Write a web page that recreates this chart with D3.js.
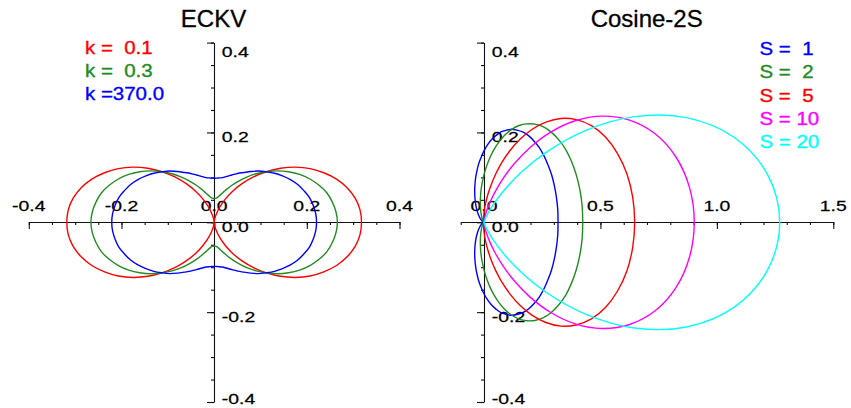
<!DOCTYPE html>
<html><head><meta charset="utf-8">
<script src="https://cdn.jsdelivr.net/npm/d3@7"></script>
<style>
body{margin:0;background:#fff}
text{font-family:"Liberation Sans",Arial,Helvetica,sans-serif}
</style>
</head><body>
<svg id="c" width="851" height="408"></svg>
<script>
// ---------- data ----------
// polar angle (degrees) at which the radii below are sampled (upper half, curves are symmetric about the x axis)
const angleDeg = [0,5,10,15,20,25,30,35,40,45,50,55,60,65,70,75,80,85,90,95,100,105,110,115,120,125,130,135,140,145,150,155,160,165,170,175,180];

// ECKV panel
const eckvTitle = "ECKV";
const eckvLabels = ["k =  0.1", "k =  0.3", "k =370.0"];
const eckvK01  = [0.318,0.316,0.309,0.297,0.281,0.261,0.239,0.214,0.187,0.159,0.132,0.105,0.080,0.057,0.037,0.021,0.010,0.002,0.000,0.002,0.010,0.021,0.037,0.057,0.080,0.105,0.132,0.159,0.187,0.214,0.239,0.261,0.281,0.297,0.309,0.316,0.318];
const eckvK03  = [0.266,0.264,0.259,0.252,0.241,0.228,0.213,0.196,0.178,0.159,0.141,0.123,0.106,0.091,0.078,0.067,0.059,0.054,0.053,0.054,0.059,0.067,0.078,0.091,0.106,0.123,0.141,0.159,0.178,0.196,0.213,0.228,0.241,0.252,0.259,0.264,0.266];
const eckvK370 = [0.221,0.220,0.217,0.213,0.206,0.199,0.190,0.180,0.170,0.159,0.149,0.138,0.128,0.120,0.112,0.106,0.101,0.099,0.098,0.099,0.101,0.106,0.112,0.120,0.128,0.138,0.149,0.159,0.170,0.180,0.190,0.199,0.206,0.213,0.217,0.220,0.221];

// Cosine-2S panel
const cosTitle = "Cosine-2S";
const cosLabels = ["S =  1", "S =  2", "S =  5", "S = 10", "S = 20"];
const cosS1  = [0.318,0.318,0.316,0.313,0.309,0.303,0.297,0.290,0.281,0.272,0.262,0.250,0.239,0.226,0.214,0.200,0.187,0.173,0.159,0.145,0.132,0.118,0.105,0.092,0.080,0.068,0.057,0.047,0.037,0.029,0.021,0.015,0.010,0.005,0.002,0.001,0.000];
const cosS2  = [0.424,0.423,0.418,0.410,0.399,0.386,0.369,0.351,0.331,0.309,0.286,0.263,0.239,0.215,0.191,0.168,0.146,0.125,0.106,0.088,0.073,0.058,0.046,0.035,0.027,0.019,0.014,0.009,0.006,0.004,0.002,0.001,0,0,0,0,0];
const cosS5  = [0.647,0.641,0.623,0.593,0.555,0.509,0.457,0.403,0.347,0.293,0.242,0.195,0.154,0.118,0.088,0.064,0.045,0.031,0.020,0.013,0.008,0.005,0.003,0.001,0.001,0,0,0,0,0,0,0,0,0,0,0,0];
const cosS10 = [0.903,0.886,0.837,0.761,0.665,0.559,0.452,0.350,0.260,0.185,0.126,0.082,0.051,0.030,0.017,0.009,0.004,0.002,0.001,0,0,0,0,0,0,0,0,0,0,0,0,0,0,0,0,0,0];
const cosS20 = [1.270,1.222,1.090,0.900,0.688,0.486,0.317,0.191,0.105,0.054,0.025,0.011,0.004,0.001,0,0,0,0,0,0,0,0,0,0,0,0,0,0,0,0,0,0,0,0,0,0,0];

// tick values / labels
const yMajor = [-0.4,-0.2,0.0,0.2,0.4];
const yTickLabels = ["-0.4","-0.2","0.0","0.2","0.4"];
const xMajorLeft = [-0.4,-0.2,0.0,0.2,0.4];
const xTickLabelsLeft = ["-0.4","-0.2","0.0","0.2","0.4"];
const xMajorRight = [0.0,0.5,1.0,1.5];
const xTickLabelsRight = ["0.0","0.5","1.0","1.5"];

// ---------- styles ----------
const eckvColors = ["#ff0000","#228b22","#0000ff"];
const cosColors  = ["#0000ff","#228b22","#ff0000","#ff00ff","#00ffff"];

const svg = d3.select("#c");
const y = d3.scaleLinear().domain([-0.4,0.4]).range([402,42.6]);

function seq(a,b,s){const out=[];const n=Math.round((b-a)/s);for(let i=0;i<=n;i++)out.push(+(a+i*s).toFixed(4));return out;}

function panel(opt){
  const x = opt.x;
  const g = svg.append("g");
  const x0 = Math.round(x(0)), y0 = Math.round(y(0));

  // x axis: minor + major ticks pointing down
  g.append("g").attr("transform",`translate(0,${y0})`)
    .call(d3.axisBottom(x).tickValues(opt.xMinor).tickSize(3).tickSizeOuter(0).tickFormat(""));
  g.append("g").attr("transform",`translate(0,${y0})`)
    .call(d3.axisBottom(x).tickValues(opt.xMajor).tickSize(7).tickSizeOuter(0).tickFormat(""))
    .select(".domain").remove();
  // y axis: ticks pointing left
  g.append("g").attr("transform",`translate(${x0},0)`)
    .call(d3.axisLeft(y).tickValues(seq(-0.4,0.4,0.05)).tickSize(3).tickSizeOuter(0).tickFormat(""));
  g.append("g").attr("transform",`translate(${x0},0)`)
    .call(d3.axisLeft(y).tickValues(yMajor).tickSize(7).tickSizeOuter(0).tickFormat(""))
    .select(".domain").remove();
  g.selectAll(".domain, .tick line").attr("stroke","#111").attr("stroke-width",1.1);

  // x tick labels (above axis, centred)
  g.selectAll(".xl").data(opt.xMajor).join("text")
    .attr("transform",(d)=>`translate(${x(d)},${y0-11.5}) scale(1.25,1)`)
    .attr("text-anchor","middle").attr("font-size",15.5).attr("fill","#000")
    .attr("stroke","#000").attr("stroke-width",0.25)
    .text((d,i)=>opt.xLabels[i]);
  // y tick labels (right of axis)
  g.selectAll(".yl").data(yMajor).join("text")
    .attr("transform",(d)=>`translate(${x0+7.8},${Math.max(57.3,Math.min(404,y(d)+10))}) scale(1.25,1)`)
    .attr("text-anchor","start").attr("font-size",15.5).attr("fill","#000")
    .attr("stroke","#000").attr("stroke-width",0.25)
    .text((d,i)=>yTickLabels[i]);

  // curves
  const line = d3.line().x(d=>x(d[0])).y(d=>y(d[1])).curve(d3.curveCatmullRomClosed.alpha(0.5));
  opt.series.forEach((rs,k)=>{
    const up = angleDeg.map((a,i)=>[rs[i]*Math.cos(a*Math.PI/180), rs[i]*Math.sin(a*Math.PI/180)]);
    const low = up.slice(1,-1).reverse().map(p=>[p[0],-p[1]]);
    const pts = [];
    up.concat(low).forEach(p=>{const q=pts[pts.length-1]; if(!q||Math.hypot(q[0]-p[0],q[1]-p[1])>1e-6) pts.push(p);});
    g.append("path").attr("d",line(pts)).attr("fill","none")
      .attr("stroke",opt.colors[k]).attr("stroke-width",1.4);
  });

  // title
  g.append("text").attr("x",opt.titleX).attr("y",27).attr("text-anchor","middle")
    .attr("font-size",24).attr("fill","#000").attr("stroke","#000").attr("stroke-width",0.3)
    .text(opt.title);
  // legend
  g.selectAll(".lg").data(opt.labels).join("text")
    .attr("transform",(d,i)=>`translate(${opt.legX},${opt.legY+i*opt.legDy}) scale(1.17,1)`)
    .attr("font-size",17.5).style("white-space","pre").attr("xml:space","preserve")
    .attr("fill",(d,i)=>opt.colors[i]).attr("stroke",(d,i)=>opt.colors[i]).attr("stroke-width",0.35)
    .text(d=>d);
}

panel({
  x: d3.scaleLinear().domain([-0.4,0.4]).range([28.8,399.5]),
  xMinor: seq(-0.4,0.4,0.05), xMajor: xMajorLeft, xLabels: xTickLabelsLeft,
  series: [eckvK01,eckvK03,eckvK370], colors: eckvColors,
  title: eckvTitle, titleX: 213.5, labels: eckvLabels, legX: 85, legY: 54, legDy: 23
});
panel({
  x: d3.scaleLinear().domain([-0.1,1.5]).range([460.7,833.3]),
  xMinor: seq(-0.1,1.5,0.1), xMajor: xMajorRight, xLabels: xTickLabelsRight,
  series: [cosS1,cosS2,cosS5,cosS10,cosS20], colors: cosColors,
  title: cosTitle, titleX: 646.7, labels: cosLabels, legX: 759.5, legY: 55, legDy: 23.3
});
</script>
</body></html>
